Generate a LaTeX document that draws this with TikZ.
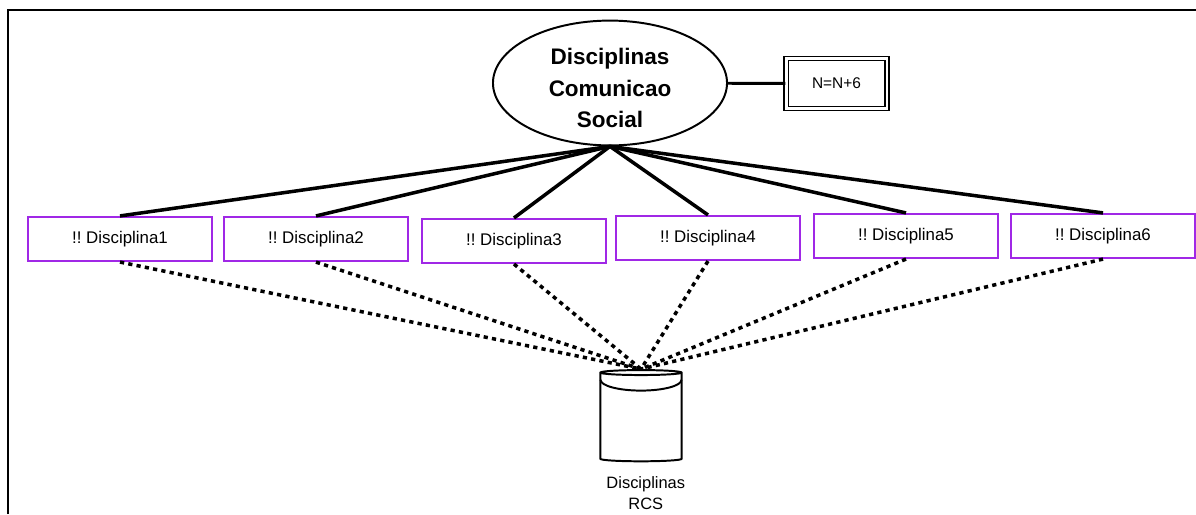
\documentclass[tikz,border=0pt]{standalone}
\usepackage{fontspec}
\setmainfont{Liberation Sans}
\usetikzlibrary{shapes.geometric, positioning}
\definecolor{DiscPurple}{RGB}{160,40,230}
\frenchspacing

\begin{document}
\begin{tikzpicture}[x=0.025cm, y=-0.025cm,
  hub/.style={draw, ellipse, line width=1.4pt, inner sep=0pt,
              minimum width=5.85cm, minimum height=3.12cm,
              font=\fontsize{16}{22.3}\selectfont\bfseries},
  cnt/.style={draw, double, line width=1.1pt, double distance=2pt,
              minimum width=2.52cm, minimum height=1.25cm,
              font=\fontsize{11}{13}\selectfont},
  disc/.style={draw=DiscPurple, line width=1.8pt,
               minimum width=4.6cm, minimum height=1.09cm,
               font=\fontsize{12}{14}\selectfont},
  db/.style={draw, cylinder, shape border rotate=90, aspect=0.53,
             line width=1.4pt, minimum width=2.03cm, minimum height=2.28cm},
  lbl/.style={align=center, font=\fontsize{11.7}{14.5}\selectfont},
  link/.style={line width=2.5pt},
  feed/.style={line width=2.5pt, dash pattern=on 3pt off 3pt}
]
  \useasboundingbox (0,0) rectangle (1196,514);

  %% outer frame
  \draw[line width=1.4pt] (8,514) -- (8,10) -- (1196,10);

  %% top node and counter
  \node[hub] (hub) at (610,83)
    {\raisebox{-9.3pt}[0pt][0pt]{\begin{tabular}{@{}c@{}}Disciplinas\\Comunicao\\Social\end{tabular}}};
  \node[cnt] (cnt) at (836.5,83.5) {N=N+6};
  \draw[line width=2.1pt] (hub) -- (cnt);

  %% disciplines
  \node[disc] (d1) at (120,239) {!! Disciplina1};
  \node[disc] (d2) at (316,239) {!! Disciplina2};
  \node[disc] (d3) at (514,241) {!! Disciplina3};
  \node[disc] (d4) at (708,238) {!! Disciplina4};
  \node[disc] (d5) at (906,236) {!! Disciplina5};
  \node[disc] (d6) at (1103,236) {!! Disciplina6};

  %% repository, with the front rim of its lid
  \node[db] (db) at (641,418) {};
  \draw[line width=1.4pt] ([shift={(-40.5,10.7)}]db.north)
    arc[start angle=180, end angle=360, x radius=1.0125cm, y radius=0.27cm];
  \node[lbl, below=0.24cm of db, xshift=0.12cm] (dbname) {Disciplinas\\RCS};

  %% hub -> disciplines, disciplines -> repository
  \foreach \d in {d1,d2,d3,d4,d5,d6} {
    \draw[link] (hub.south) -- (\d.north);
    \draw[feed] (\d.south) -- (db.north);
  }
\end{tikzpicture}
\end{document}
